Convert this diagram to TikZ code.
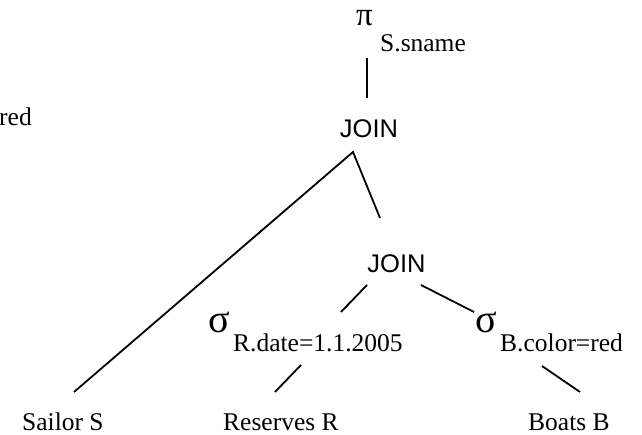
\documentclass[tikz,border=0pt]{standalone}
\usepackage{fontspec}
\setmainfont{Liberation Serif}
\newfontfamily\arialfont{Liberation Sans}
\begin{document}
\begin{tikzpicture}[x=1pt,y=-1pt,
  lbl/.style={inner sep=0pt, anchor=base west, font=\fontsize{25.5}{30}\selectfont},
  greek/.style={inner sep=0pt, anchor=base west, font=\fontsize{40}{44}\selectfont},
  greekpi/.style={inner sep=0pt, anchor=base west, text height=16pt, text depth=0pt, font=\fontsize{33}{38}\selectfont},
  joinlbl/.style={inner sep=0pt, anchor=base, font=\arialfont\fontsize{25.5}{30}\selectfont},
  conn/.style={line width=1.8pt}]
\useasboundingbox (0,0) rectangle (642,435);
% labels
\node[lbl] (red) at (-1,126) {red};
\node[greekpi] (pi) at (356,26) {π};
\node[lbl] (pisub) at (380,52) {S.sname};
\node[joinlbl] (j1) at (369,138) {JOIN};
\node[joinlbl] (j2) at (396.5,273) {JOIN};
\node[greek] (sr) at (208,332) {σ};
\node[lbl] (srsub) at (233,352) {R.date=1.1.2005};
\node[greek] (sb) at (475,332) {σ};
\node[lbl] (sbsub) at (500,352) {B.color=red};
\node[lbl] (sailor) at (22,430) {Sailor S};
\node[lbl] (reserves) at (223,430) {Reserves R};
\node[lbl] (boats) at (528,430) {Boats B};
% connector ends
\coordinate (piB) at (367,58);
\coordinate (j1T) at (367,98);
\coordinate (j1B) at (353,152);
\coordinate (sailorT) at (74,392);
\coordinate (j2T) at (380,218);
\coordinate (j2L) at (367,285);
\coordinate (srT) at (341,312);
\coordinate (j2R) at (421,285);
\coordinate (sbT) at (474,312);
\coordinate (srB) at (301,365);
\coordinate (reservesT) at (275,392);
\coordinate (sbB) at (542,366);
\coordinate (boatsT) at (580,392);
% connectors
\draw[conn] (piB) -- (j1T);
\draw[conn] (sailorT) -- (j1B) -- (j2T);
\draw[conn] (j2L) -- (srT);
\draw[conn] (j2R) -- (sbT);
\draw[conn] (srB) -- (reservesT);
\draw[conn] (sbB) -- (boatsT);
\end{tikzpicture}
\end{document}
